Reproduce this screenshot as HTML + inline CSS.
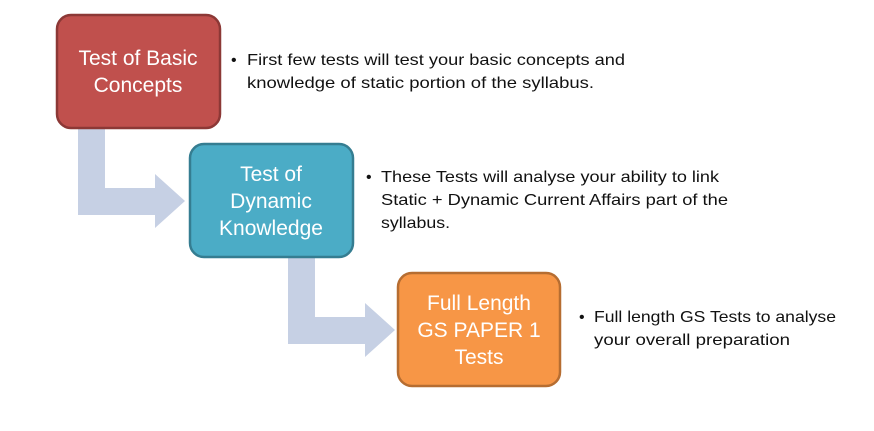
<!DOCTYPE html>
<html><head><meta charset="utf-8"><style>html,body{margin:0;padding:0;background:#fff}</style></head>
<body>
<svg width="874" height="426" viewBox="0 0 874 426" xmlns="http://www.w3.org/2000/svg" font-family="Liberation Sans, sans-serif">
<g fill="#c6d0e4">
<path d="M78 128 H105 V188 H155 V174 L185 201 L155 228 V215 H78 Z"/>
<path d="M288 257 H315 V317 H365 V303 L395 330 L365 357 V344 H288 Z"/>
</g>
<rect x="57" y="15" width="163" height="113" rx="14" fill="#c0504d" stroke="#8c3836" stroke-width="2.5"/>
<rect x="190" y="144" width="163" height="113" rx="14" fill="#4bacc6" stroke="#357d91" stroke-width="2.5"/>
<rect x="398" y="273" width="162" height="113" rx="14" fill="#f79646" stroke="#b66d31" stroke-width="2.5"/>
<g fill="#fff" font-size="21" text-anchor="middle">
<text x="138" y="65">Test of Basic</text>
<text x="138" y="92">Concepts</text>
<text x="271" y="181">Test of</text>
<text x="271" y="208">Dynamic</text>
<text x="271" y="235">Knowledge</text>
<text x="479" y="310">Full Length</text>
<text x="479" y="337">GS PAPER 1</text>
<text x="479" y="364">Tests</text>
</g>
<g fill="#111" font-size="16">
<text x="231" y="65">•</text>
<text x="247" y="65" textLength="378" lengthAdjust="spacingAndGlyphs">First few tests will test your basic concepts and</text>
<text x="247" y="88" textLength="347" lengthAdjust="spacingAndGlyphs">knowledge of static portion of the syllabus.</text>
<text x="366" y="182">•</text>
<text x="381" y="182" textLength="338" lengthAdjust="spacingAndGlyphs">These Tests will analyse your ability to link</text>
<text x="381" y="205" textLength="347" lengthAdjust="spacingAndGlyphs">Static + Dynamic Current Affairs part of the</text>
<text x="381" y="228" textLength="69" lengthAdjust="spacingAndGlyphs">syllabus.</text>
<text x="579" y="322">•</text>
<text x="594" y="322" textLength="242" lengthAdjust="spacingAndGlyphs">Full length GS Tests to analyse</text>
<text x="594" y="345" textLength="196" lengthAdjust="spacingAndGlyphs">your overall preparation</text>
</g>
</svg>
</body></html>
